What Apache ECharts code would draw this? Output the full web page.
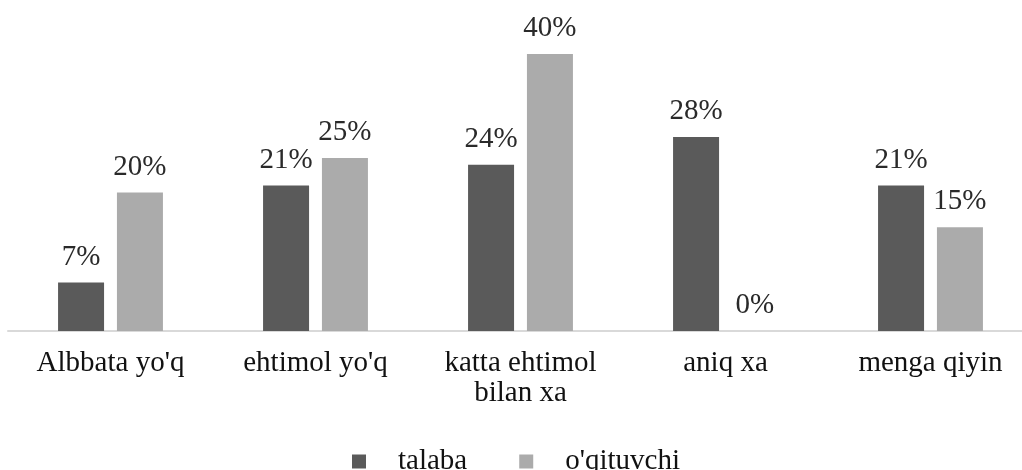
<!DOCTYPE html>
<html>
<head>
<meta charset="utf-8">
<script src="https://cdn.jsdelivr.net/npm/echarts@6/dist/echarts.min.js"></script>
<style>
	html,body{margin:0;padding:0;background:#fff;}
	#chart{width:1022px;height:470px;}
</style>
</head>
<body>
<div id="chart"></div>
<script>
	// kategoriyalar va qiymatlar (%)
	var categories = ['Albbata yo\'q', 'ehtimol yo\'q', 'katta ehtimol\nbilan xa', 'aniq xa', 'menga qiyin']
	var talaba = [7, 21, 24, 28, 21]
	var oqituvchi = [20, 25, 40, 0, 15]
	var seriesNames = ['talaba', 'o\'qituvchi']

	var chart = echarts.init(document.getElementById('chart'))
	var font = '"Liberation Serif", "Times New Roman", serif'

	var labelStyle = {
		show: true,
		position: 'top',
		distance: 11,
		fontFamily: font,
		fontSize: 29,
		color: '#2a2a2a',
		formatter: '{c}%'
	}

	option = {
		animation: false,
		grid: {
			left: 8,
			top: 54,
			width: 1025,
			bottom: 139,
			outerBoundsMode: 'none'
		},
		legend: {
			data: seriesNames,
			left: 347,
			top: 442,
			icon: 'rect',
			itemWidth: 14,
			itemHeight: 14,
			itemGap: 52,
			textStyle: {
				fontFamily: font,
				fontSize: 29,
				color: '#111',
				padding: [0, 0, 0, 27]
			}
		},
		xAxis: {
			type: 'category',
			data: categories,
			axisLine: {lineStyle: {color: '#d9d9d9', width: 2}},
			axisTick: {show: false},
			axisLabel: {
				margin: 17,
				fontFamily: font,
				fontSize: 29,
				lineHeight: 30,
				color: '#111',
				interval: 0
			}
		},
		yAxis: {
			type: 'value',
			min: 0,
			max: 40,
			show: false,
			splitLine: {show: false}
		},
		series: [
			{
				name: seriesNames[0],
				type: 'bar',
				barWidth: 46,
				barGap: '28%',
				itemStyle: {color: '#5a5a5a'},
				label: labelStyle,
				data: talaba
			},
			{
				name: seriesNames[1],
				type: 'bar',
				barWidth: 46,
				barGap: '28%',
				itemStyle: {color: '#ababab'},
				label: labelStyle,
				data: oqituvchi
			}
		]
	}
	chart.setOption(option)
</script>
</body>
</html>
